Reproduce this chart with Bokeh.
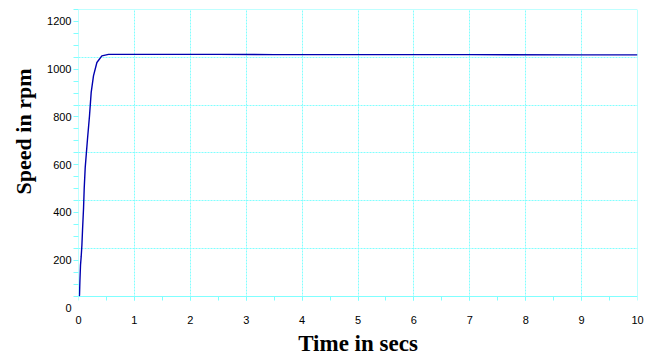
from bokeh.plotting import figure
from bokeh.models import Range1d, FixedTicker, Grid, Title
from bokeh.embed import file_html
from bokeh.resources import INLINE

# --- data ---
time_s = [0.015, 0.018, 0.025, 0.036, 0.048, 0.061, 0.072, 0.09, 0.102, 0.12,
          0.161, 0.197, 0.227, 0.268, 0.329, 0.418, 0.537, 0.8, 1.5, 2.5,
          3.5, 5.0, 7.0, 9.0, 10.0]
speed_rpm = [50, 55, 111, 180, 215, 264, 326, 417, 500, 588,
             708, 805, 903, 972, 1028, 1056, 1062, 1062, 1062, 1062,
             1061, 1061, 1061, 1060, 1060]

x_ticks = [0, 1, 2, 3, 4, 5, 6, 7, 8, 9, 10]
y_ticks = [0, 200, 400, 600, 800, 1000, 1200]
y_minor = [50 + 50 * i for i in range(25)]
h_grid = [250, 450, 650, 850, 1050]
v_grid = [1, 2, 3, 4, 5, 6, 7, 8, 9]
x_half = [0.5 * i for i in range(1, 20)]

CY = "#80ffff"
TICK_FONT = "Liberation Sans"
TITLE_FONT = "Liberation Serif"

p = figure(width=649, height=358, output_backend="svg", toolbar_location=None,
           x_range=Range1d(0, 10), y_range=Range1d(-2, 1250),
           min_border_left=0, min_border_right=12, min_border_top=9,
           min_border_bottom=0)
p.outline_line_color = None
p.xgrid.visible = False
p.ygrid.visible = False

# x axis (labels + title only)
xa = p.xaxis[0]
xa.ticker = FixedTicker(ticks=x_ticks)
xa.axis_line_color = None
xa.major_tick_line_color = None
xa.minor_tick_line_color = None
xa.major_tick_out = 0
xa.major_tick_in = 0
xa.major_label_standoff = 7
xa.major_label_text_font = TICK_FONT
xa.major_label_text_font_size = "11px"
xa.major_label_text_color = "#000000"
xa.axis_label = "Time in secs"
xa.axis_label_text_font = TITLE_FONT
xa.axis_label_text_font_size = "23px"
xa.axis_label_text_font_style = "bold"
xa.axis_label_text_color = "#000000"
xa.axis_label_standoff = 4

# y axis
ya = p.yaxis[0]
ya.ticker = FixedTicker(ticks=y_ticks, minor_ticks=y_minor)
ya.axis_line_color = None
ya.major_tick_line_color = None
ya.major_tick_out = 0
ya.major_tick_in = 0
ya.minor_tick_line_color = CY
ya.minor_tick_out = 5
ya.minor_tick_in = 0
ya.major_label_standoff = 2
ya.major_label_text_font = TICK_FONT
ya.major_label_text_font_size = "11px"
ya.major_label_text_color = "#000000"

p.add_layout(Title(text="Speed in rpm", align="right", offset=59,
                   text_font=TITLE_FONT, text_font_size="22px",
                   text_font_style="bold", text_color="#000000", standoff=17), "left")

# dotted grid
p.add_layout(Grid(dimension=0, ticker=FixedTicker(ticks=v_grid), grid_line_color=CY,
                  grid_line_dash="2 1", cross_bounds=(30, 1250)))
p.add_layout(Grid(dimension=1, ticker=FixedTicker(ticks=h_grid), grid_line_color=CY,
                  grid_line_dash="2 1"))
# solid axis lines / border / ticks
p.add_layout(Grid(dimension=1, ticker=FixedTicker(ticks=[50, 1249.9]), grid_line_color=CY))
p.add_layout(Grid(dimension=0, ticker=FixedTicker(ticks=[0.001, 9.999]), grid_line_color=CY,
                  cross_bounds=(30, 1250)))
p.add_layout(Grid(dimension=0, ticker=FixedTicker(ticks=x_half), grid_line_color=CY,
                  cross_bounds=(30, 50)))

p.line(time_s, speed_rpm, line_color="#0000b0", line_width=1.4)

open("out.html", "w").write(file_html(p, INLINE))
